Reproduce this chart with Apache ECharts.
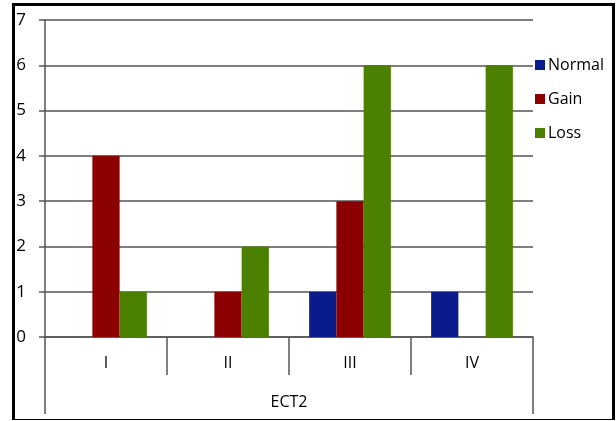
<!DOCTYPE html>
<html>
<head>
<meta charset="utf-8">
<script src="https://cdn.jsdelivr.net/npm/echarts@6/dist/echarts.min.js"></script>
<style>
html,body{margin:0;padding:0;background:#fff;}
#wrap{position:relative;width:616px;height:421px;}
#chart{position:absolute;left:0;top:0;width:616px;height:421px;}
#frame{position:absolute;left:12px;top:3px;width:603px;height:417px;box-sizing:border-box;border-top:3px solid #000;border-left:3px solid #000;border-right:3px solid #000;border-bottom:1px solid #000;pointer-events:none;z-index:10;}
</style>
</head>
<body>
<div id="wrap"><div id="chart"></div><div id="frame"></div></div>
<script>
var categories = ['I', 'II', 'III', 'IV'];
var groupLabel = ['ECT2'];
var seriesNames = ['Normal', 'Gain', 'Loss'];
var normalValues = [0, 0, 1, 1];
var gainValues = [4, 1, 3, 0];
var lossValues = [1, 2, 6, 6];
var colors = ['#0A1B8C', '#8B0000', '#4C8000'];

var font = 'Open Sans';
var chart = echarts.init(document.getElementById('chart'));
var valuesList = [normalValues, gainValues, lossValues];
chart.setOption({
  animation: false,
  color: colors,
  grid: {left: 45, top: 20, right: 83, bottom: 84, containLabel: false, outerBoundsMode: 'none'},
  legend: {
    orient: 'vertical', left: 530, top: 52, itemGap: 18,
    itemWidth: 10, itemHeight: 10, icon: 'rect',
    textStyle: {fontFamily: font, fontSize: 16, color: '#000', padding: [0,0,0,-2]},
    data: seriesNames
  },
  xAxis: [{
    type: 'category', data: categories, position: 'bottom',
    axisLine: {show: true, lineStyle: {color: '#555', width: 1.5}},
    axisTick: {show: true, alignWithLabel: false, length: 38, lineStyle: {color: '#555', width: 1.5}},
    axisLabel: {fontFamily: font, fontSize: 16, color: '#000', margin: 18},
    splitLine: {show: false}
  }, {
    type: 'category', data: groupLabel, position: 'bottom',
    axisLine: {show: false},
    axisTick: {show: true, alignWithLabel: false, length: 77, lineStyle: {color: '#555', width: 1.5}},
    axisLabel: {fontFamily: font, fontSize: 16, color: '#000', margin: 57},
    splitLine: {show: false}
  }],
  yAxis: {
    type: 'value', min: 0, max: 7, interval: 1,
    axisLine: {show: true, lineStyle: {color: '#555', width: 1.5}},
    axisTick: {show: true, length: 6, lineStyle: {color: '#555', width: 1.5}},
    axisLabel: {fontFamily: font, fontSize: 17, color: '#000', margin: 19, align: 'right'},
    splitLine: {show: true, lineStyle: {color: '#555', width: 1.5}}
  },
  series: seriesNames.map(function (n, i) {
    return {
      name: n, type: 'bar', xAxisIndex: 0, data: valuesList[i],
      barGap: '0%', barCategoryGap: '33%',
      itemStyle: {color: colors[i]}
    };
  })
});
</script>
</body>
</html>
